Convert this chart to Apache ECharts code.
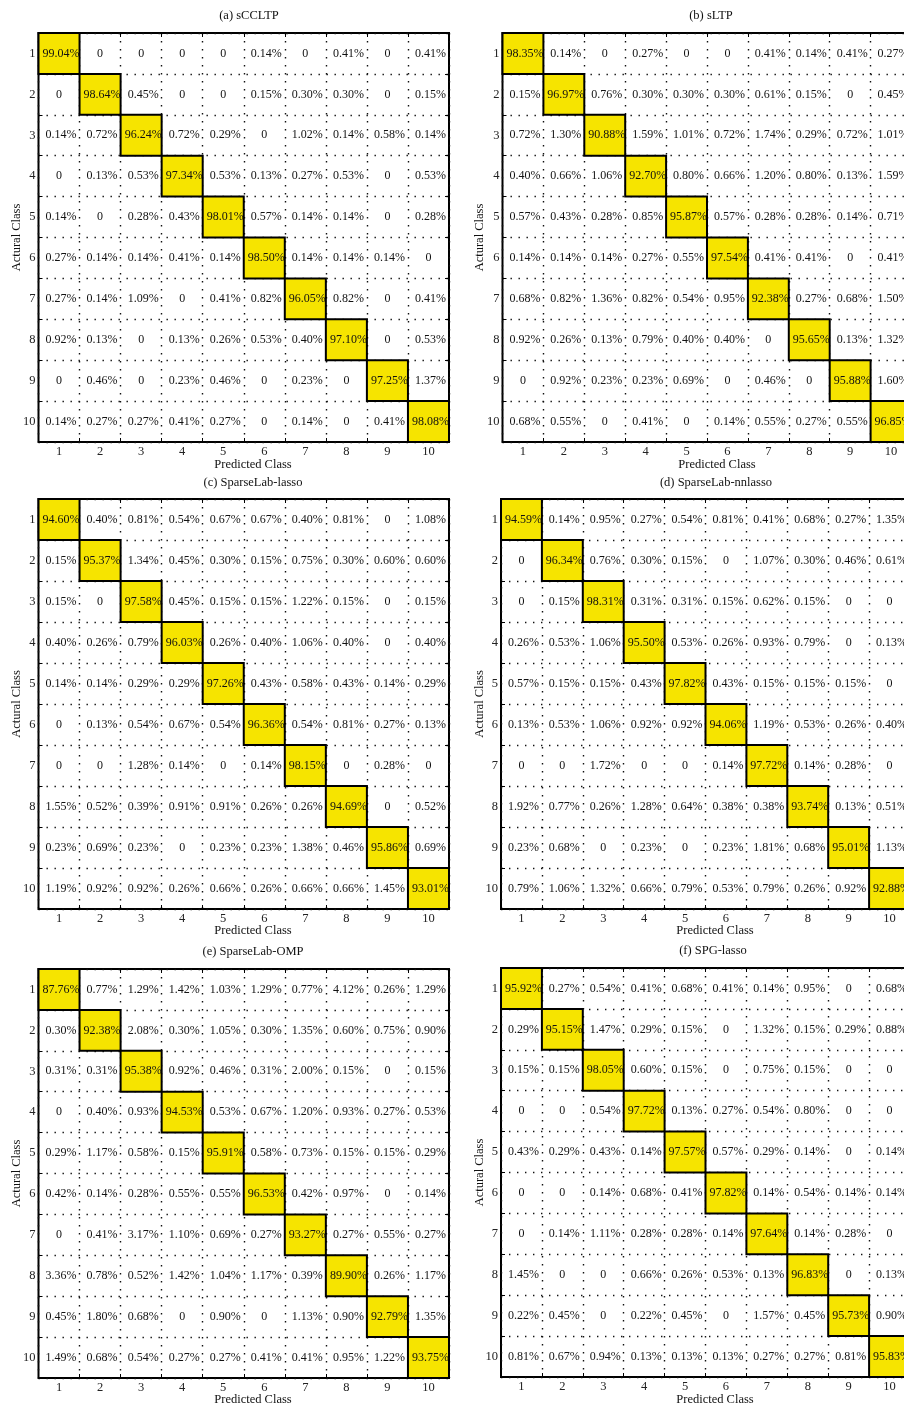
<!DOCTYPE html>
<html>
<head>
<meta charset="utf-8">
<title>Confusion matrices</title>
<script src="https://cdn.jsdelivr.net/npm/echarts@6/dist/echarts.min.js"></script>
<style>
  html, body { margin: 0; padding: 0; background: #fff; }
  #chart { width: 904px; height: 1406px; }
</style>
</head>
<body>
<div id="chart"></div>
<script>
// Class labels shared by both axes of every matrix
const classes = ['1', '2', '3', '4', '5', '6', '7', '8', '9', '10'];

// Confusion matrices (rows: actual class, columns: predicted class), in percent
const sCCLTP = [
  [99.04, 0, 0, 0, 0, 0.14, 0, 0.41, 0, 0.41],
  [0, 98.64, 0.45, 0, 0, 0.15, 0.30, 0.30, 0, 0.15],
  [0.14, 0.72, 96.24, 0.72, 0.29, 0, 1.02, 0.14, 0.58, 0.14],
  [0, 0.13, 0.53, 97.34, 0.53, 0.13, 0.27, 0.53, 0, 0.53],
  [0.14, 0, 0.28, 0.43, 98.01, 0.57, 0.14, 0.14, 0, 0.28],
  [0.27, 0.14, 0.14, 0.41, 0.14, 98.50, 0.14, 0.14, 0.14, 0],
  [0.27, 0.14, 1.09, 0, 0.41, 0.82, 96.05, 0.82, 0, 0.41],
  [0.92, 0.13, 0, 0.13, 0.26, 0.53, 0.40, 97.10, 0, 0.53],
  [0, 0.46, 0, 0.23, 0.46, 0, 0.23, 0, 97.25, 1.37],
  [0.14, 0.27, 0.27, 0.41, 0.27, 0, 0.14, 0, 0.41, 98.08]
];

const sLTP = [
  [98.35, 0.14, 0, 0.27, 0, 0, 0.41, 0.14, 0.41, 0.27],
  [0.15, 96.97, 0.76, 0.30, 0.30, 0.30, 0.61, 0.15, 0, 0.45],
  [0.72, 1.30, 90.88, 1.59, 1.01, 0.72, 1.74, 0.29, 0.72, 1.01],
  [0.40, 0.66, 1.06, 92.70, 0.80, 0.66, 1.20, 0.80, 0.13, 1.59],
  [0.57, 0.43, 0.28, 0.85, 95.87, 0.57, 0.28, 0.28, 0.14, 0.71],
  [0.14, 0.14, 0.14, 0.27, 0.55, 97.54, 0.41, 0.41, 0, 0.41],
  [0.68, 0.82, 1.36, 0.82, 0.54, 0.95, 92.38, 0.27, 0.68, 1.50],
  [0.92, 0.26, 0.13, 0.79, 0.40, 0.40, 0, 95.65, 0.13, 1.32],
  [0, 0.92, 0.23, 0.23, 0.69, 0, 0.46, 0, 95.88, 1.60],
  [0.68, 0.55, 0, 0.41, 0, 0.14, 0.55, 0.27, 0.55, 96.85]
];

const sparseLabLasso = [
  [94.60, 0.40, 0.81, 0.54, 0.67, 0.67, 0.40, 0.81, 0, 1.08],
  [0.15, 95.37, 1.34, 0.45, 0.30, 0.15, 0.75, 0.30, 0.60, 0.60],
  [0.15, 0, 97.58, 0.45, 0.15, 0.15, 1.22, 0.15, 0, 0.15],
  [0.40, 0.26, 0.79, 96.03, 0.26, 0.40, 1.06, 0.40, 0, 0.40],
  [0.14, 0.14, 0.29, 0.29, 97.26, 0.43, 0.58, 0.43, 0.14, 0.29],
  [0, 0.13, 0.54, 0.67, 0.54, 96.36, 0.54, 0.81, 0.27, 0.13],
  [0, 0, 1.28, 0.14, 0, 0.14, 98.15, 0, 0.28, 0],
  [1.55, 0.52, 0.39, 0.91, 0.91, 0.26, 0.26, 94.69, 0, 0.52],
  [0.23, 0.69, 0.23, 0, 0.23, 0.23, 1.38, 0.46, 95.86, 0.69],
  [1.19, 0.92, 0.92, 0.26, 0.66, 0.26, 0.66, 0.66, 1.45, 93.01]
];

const sparseLabNnlasso = [
  [94.59, 0.14, 0.95, 0.27, 0.54, 0.81, 0.41, 0.68, 0.27, 1.35],
  [0, 96.34, 0.76, 0.30, 0.15, 0, 1.07, 0.30, 0.46, 0.61],
  [0, 0.15, 98.31, 0.31, 0.31, 0.15, 0.62, 0.15, 0, 0],
  [0.26, 0.53, 1.06, 95.50, 0.53, 0.26, 0.93, 0.79, 0, 0.13],
  [0.57, 0.15, 0.15, 0.43, 97.82, 0.43, 0.15, 0.15, 0.15, 0],
  [0.13, 0.53, 1.06, 0.92, 0.92, 94.06, 1.19, 0.53, 0.26, 0.40],
  [0, 0, 1.72, 0, 0, 0.14, 97.72, 0.14, 0.28, 0],
  [1.92, 0.77, 0.26, 1.28, 0.64, 0.38, 0.38, 93.74, 0.13, 0.51],
  [0.23, 0.68, 0, 0.23, 0, 0.23, 1.81, 0.68, 95.01, 1.13],
  [0.79, 1.06, 1.32, 0.66, 0.79, 0.53, 0.79, 0.26, 0.92, 92.88]
];

const sparseLabOMP = [
  [87.76, 0.77, 1.29, 1.42, 1.03, 1.29, 0.77, 4.12, 0.26, 1.29],
  [0.30, 92.38, 2.08, 0.30, 1.05, 0.30, 1.35, 0.60, 0.75, 0.90],
  [0.31, 0.31, 95.38, 0.92, 0.46, 0.31, 2.00, 0.15, 0, 0.15],
  [0, 0.40, 0.93, 94.53, 0.53, 0.67, 1.20, 0.93, 0.27, 0.53],
  [0.29, 1.17, 0.58, 0.15, 95.91, 0.58, 0.73, 0.15, 0.15, 0.29],
  [0.42, 0.14, 0.28, 0.55, 0.55, 96.53, 0.42, 0.97, 0, 0.14],
  [0, 0.41, 3.17, 1.10, 0.69, 0.27, 93.27, 0.27, 0.55, 0.27],
  [3.36, 0.78, 0.52, 1.42, 1.04, 1.17, 0.39, 89.90, 0.26, 1.17],
  [0.45, 1.80, 0.68, 0, 0.90, 0, 1.13, 0.90, 92.79, 1.35],
  [1.49, 0.68, 0.54, 0.27, 0.27, 0.41, 0.41, 0.95, 1.22, 93.75]
];

const spgLasso = [
  [95.92, 0.27, 0.54, 0.41, 0.68, 0.41, 0.14, 0.95, 0, 0.68],
  [0.29, 95.15, 1.47, 0.29, 0.15, 0, 1.32, 0.15, 0.29, 0.88],
  [0.15, 0.15, 98.05, 0.60, 0.15, 0, 0.75, 0.15, 0, 0],
  [0, 0, 0.54, 97.72, 0.13, 0.27, 0.54, 0.80, 0, 0],
  [0.43, 0.29, 0.43, 0.14, 97.57, 0.57, 0.29, 0.14, 0, 0.14],
  [0, 0, 0.14, 0.68, 0.41, 97.82, 0.14, 0.54, 0.14, 0.14],
  [0, 0.14, 1.11, 0.28, 0.28, 0.14, 97.64, 0.14, 0.28, 0],
  [1.45, 0, 0, 0.66, 0.26, 0.53, 0.13, 96.83, 0, 0.13],
  [0.22, 0.45, 0, 0.22, 0.45, 0, 1.57, 0.45, 95.73, 0.90],
  [0.81, 0.67, 0.94, 0.13, 0.13, 0.13, 0.27, 0.27, 0.81, 95.83]
];

const panelTitles = ['(a) sCCLTP', '(b) sLTP', '(c) SparseLab-lasso',
  '(d) SparseLab-nnlasso', '(e) SparseLab-OMP', '(f) SPG-lasso'];
const matrices = [sCCLTP, sLTP, sparseLabLasso, sparseLabNnlasso, sparseLabOMP, spgLasso];
const xAxisTitle = 'Predicted Class';
const yAxisTitle = 'Actural Class';

// Panel geometry (pixels); the right-hand column runs past the page edge
const layout = [
  { left: 38.5, top: 33,  width: 410.5, height: 409, titleX: 249, titleY: 16,  xnameX: 253, xnameY: 465, ynameX: 17 },
  { left: 502.5, top: 33, width: 409,   height: 409, titleX: 711, titleY: 16,  xnameX: 717, xnameY: 465, ynameX: 480 },
  { left: 38.5, top: 499, width: 410.5, height: 410, titleX: 253, titleY: 483, xnameX: 253, xnameY: 931, ynameX: 17 },
  { left: 501,  top: 499, width: 409,   height: 410, titleX: 716, titleY: 483, xnameX: 715, xnameY: 931, ynameX: 480 },
  { left: 38.5, top: 969, width: 410.5, height: 409, titleX: 253, titleY: 952, xnameX: 253, xnameY: 1400, ynameX: 17 },
  { left: 501,  top: 968, width: 409,   height: 409, titleX: 713, titleY: 951, xnameX: 715, xnameY: 1400, ynameX: 480 }
];

const FONT = '"Liberation Serif", "Times New Roman", serif';
const YELLOW = '#f6e400';
const dotted = { color: '#111', width: 1.4, type: [1.4, 6.6] };

function fmt(v) {
  return v === 0 ? '0' : v.toFixed(2) + '%';
}

function renderCell(params, api) {
  const col = api.value(0);
  const row = api.value(1);
  const v = api.value(2);
  const c = api.coord([col, row]);
  const s = api.size([1, 1]);
  const children = [];
  if (col === row) {
    children.push({
      type: 'rect',
      shape: { x: c[0] - s[0] / 2, y: c[1] - s[1] / 2, width: s[0], height: s[1] },
      style: { fill: YELLOW, stroke: '#000', lineWidth: 2 }
    });
  }
  children.push({
    type: 'text',
    x: c[0] + (v > 0 ? 2 : 0),
    y: c[1],
    style: {
      text: fmt(v),
      fill: '#111',
      font: '12px ' + FONT,
      align: 'center',
      verticalAlign: 'middle'
    }
  });
  return { type: 'group', children };
}

const grids = [], xAxes = [], yAxes = [], series = [], graphics = [];

layout.forEach((g, i) => {
  grids.push({
    left: g.left, top: g.top, width: g.width, height: g.height,
    outerBoundsMode: 'none', containLabel: false,
    show: true, borderColor: '#000', borderWidth: 2, backgroundColor: 'transparent'
  });
  // bottom axis with labels and dotted column separators
  xAxes.push({
    type: 'category', gridIndex: i, position: 'bottom', data: classes,
    axisLine: { show: false },
    axisTick: { show: true, inside: true, length: 4, interval: 0, lineStyle: { color: '#000' } },
    axisLabel: { interval: 0, margin: 3, color: '#222', fontFamily: FONT, fontSize: 12.5 },
    splitLine: { show: true, interval: 0, lineStyle: dotted }
  });
  // top axis: ticks only
  xAxes.push({
    type: 'category', gridIndex: i, position: 'top', data: classes,
    axisLine: { show: false },
    axisTick: { show: true, inside: true, length: 4, interval: 0, lineStyle: { color: '#000' } },
    axisLabel: { show: false },
    splitLine: { show: false }
  });
  // left axis with labels and dotted row separators
  yAxes.push({
    type: 'category', gridIndex: i, position: 'left', inverse: true, data: classes,
    axisLine: { show: false },
    axisTick: { show: true, inside: true, length: 4, interval: 0, lineStyle: { color: '#000' } },
    axisLabel: { interval: 0, margin: 3, color: '#222', fontFamily: FONT, fontSize: 12.5 },
    splitLine: { show: true, interval: 0, lineStyle: dotted }
  });
  // right axis: ticks only
  yAxes.push({
    type: 'category', gridIndex: i, position: 'right', inverse: true, data: classes,
    axisLine: { show: false },
    axisTick: { show: true, inside: true, length: 4, interval: 0, lineStyle: { color: '#000' } },
    axisLabel: { show: false },
    splitLine: { show: false }
  });

  const data = [];
  matrices[i].forEach((rowVals, r) => {
    rowVals.forEach((v, c) => data.push([c, r, v]));
  });
  series.push({
    type: 'custom',
    xAxisIndex: i * 2,
    yAxisIndex: i * 2,
    renderItem: renderCell,
    encode: { x: 0, y: 1 },
    data: data,
    silent: true,
    animation: false
  });

  graphics.push({
    type: 'text', x: g.titleX, y: g.titleY,
    style: { text: panelTitles[i], font: '12.5px ' + FONT, fill: '#111', textAlign: 'center', textVerticalAlign: 'middle' }
  });
  graphics.push({
    type: 'text', x: g.xnameX, y: g.xnameY,
    style: { text: xAxisTitle, font: '12.5px ' + FONT, fill: '#111', textAlign: 'center', textVerticalAlign: 'middle' }
  });
  graphics.push({
    type: 'text', x: g.ynameX, y: g.top + g.height / 2, rotation: Math.PI / 2,
    style: { text: yAxisTitle, font: '12.5px ' + FONT, fill: '#111', textAlign: 'center', textVerticalAlign: 'middle' }
  });
});

const chart = echarts.init(document.getElementById('chart'), null, { renderer: 'canvas' });
chart.setOption({
  animation: false,
  backgroundColor: '#fff',
  grid: grids,
  xAxis: xAxes,
  yAxis: yAxes,
  series: series,
  graphic: graphics
});
</script>
</body>
</html>
